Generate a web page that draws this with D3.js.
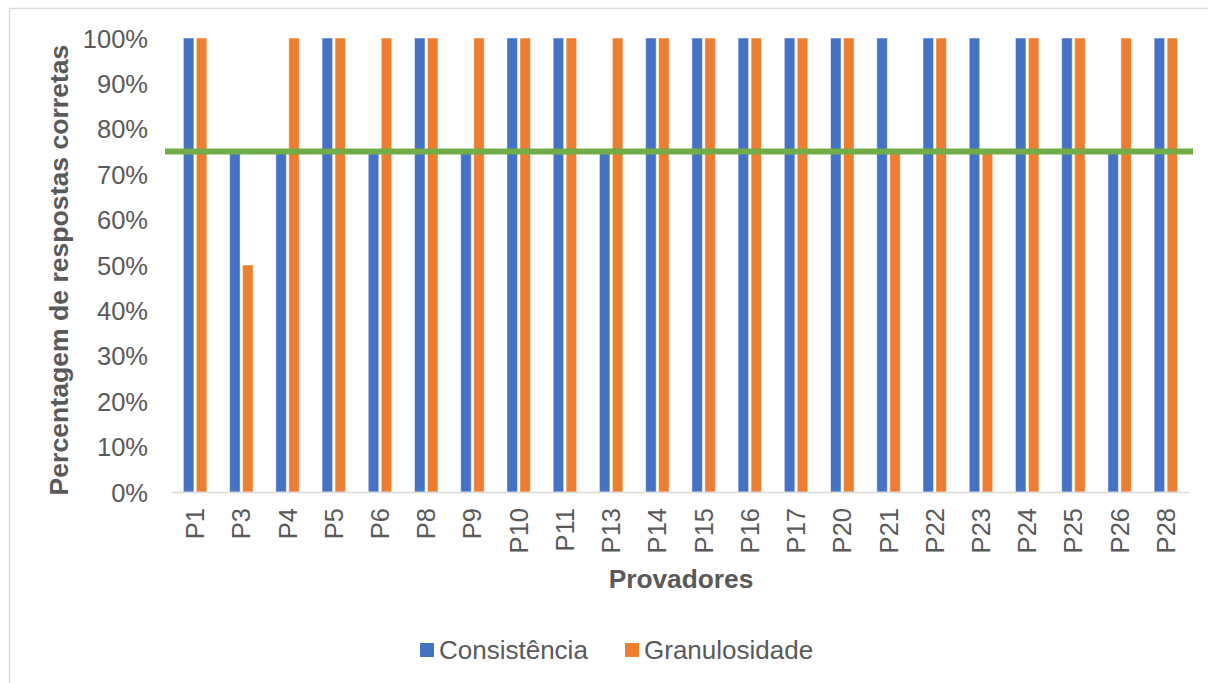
<!DOCTYPE html>
<html>
<head>
<meta charset="utf-8">
<script src="https://cdn.jsdelivr.net/npm/d3@7"></script>
<style>
  html, body { margin: 0; padding: 0; background: #fff; }
  svg { display: block; font-family: "Liberation Sans", Arial, sans-serif; }
</style>
</head>
<body>
<svg id="chart" width="1208" height="683"></svg>
<script>
// Tasters (provadores) and the share of correct answers per attribute
const categories = ["P1","P3","P4","P5","P6","P8","P9","P10","P11","P13","P14","P15","P16","P17","P20","P21","P22","P23","P24","P25","P26","P28"];
const seriesNames = ["Consistência", "Granulosidade"];
const consistencia = [100,75,75,100,75,100,75,100,100,75,100,100,100,100,100,100,100,100,100,100,75,100];
const granulosidade = [100,50,100,100,100,100,100,100,100,100,100,100,100,100,100,75,100,75,100,100,100,100];
const threshold = [75];
const yTicks = [0,10,20,30,40,50,60,70,80,90,100];
const colors = ["#4472C4", "#ED7D31"];
const thresholdColor = "#70AD47";

const svg = d3.select("#chart");
const textColor = "#595959";

// chart frame
svg.append("rect")
  .attr("x", 9.5).attr("y", 8.5)
  .attr("width", 1220).attr("height", 700)
  .attr("fill", "none").attr("stroke", "#D9D9D9").attr("stroke-width", 1.5);

const plot = { left: 172, right: 1189, top: 38, bottom: 492 };

const x0 = d3.scaleBand().domain(categories).range([plot.left, plot.right]).padding(0);
const groupW = 23.5;
const x1 = d3.scaleBand().domain(seriesNames).range([0, groupW]).paddingInner(0.19).paddingOuter(0);
const y = d3.scaleLinear().domain([0, 100]).range([plot.bottom, plot.top]);

// bars
const rows = categories.map((c, i) => ({ cat: c, values: [consistencia[i], granulosidade[i]] }));
const groups = svg.append("g").selectAll("g").data(rows).join("g")
  .attr("transform", d => `translate(${x0(d.cat) + x0.bandwidth() / 2 - groupW / 2},0)`);
groups.selectAll("rect")
  .data(d => d.values.map((v, j) => ({ name: seriesNames[j], v, j })))
  .join("rect")
  .attr("x", d => x1(d.name))
  .attr("width", x1.bandwidth())
  .attr("y", d => y(d.v))
  .attr("height", d => y(0) - y(d.v))
  .attr("fill", d => colors[d.j])
  .attr("stroke", "#fff").attr("stroke-opacity", 0.5).attr("stroke-width", 1);

// category axis line
svg.append("line")
  .attr("x1", plot.left).attr("x2", plot.right)
  .attr("y1", y(0) + 0.5).attr("y2", y(0) + 0.5)
  .attr("stroke", "#D9D9D9").attr("stroke-width", 1.5);

// value axis labels
const yAxis = d3.axisLeft(y).tickValues(yTicks).tickFormat(d => d + "%").tickSize(0).tickPadding(0);
const yg = svg.append("g").attr("transform", "translate(148,0)").call(yAxis);
yg.select(".domain").remove();
yg.selectAll("text")
  .attr("fill", textColor).attr("font-size", "25.5px")
  .attr("font-family", "Liberation Sans, Arial, sans-serif")
  .attr("dy", null).attr("dominant-baseline", "central");

// category labels, rotated
const xAxis = d3.axisBottom(x0).tickSize(0).tickPadding(0);
const xg = svg.append("g").attr("transform", `translate(0,${plot.bottom})`).call(xAxis);
xg.select(".domain").remove();
xg.selectAll("text")
  .attr("fill", textColor).attr("font-size", "25.5px")
  .attr("font-family", "Liberation Sans, Arial, sans-serif")
  .attr("text-anchor", "end")
  .attr("dominant-baseline", "central")
  .attr("dy", null).attr("y", 0)
  .attr("transform", "translate(0,16) rotate(-90)");

// 75% reference line
svg.append("g").selectAll("line").data(threshold).join("line")
  .attr("x1", plot.left - 7).attr("x2", plot.right + 4)
  .attr("y1", d => y(d)).attr("y2", d => y(d))
  .attr("stroke", thresholdColor).attr("stroke-width", 6);

// axis titles
svg.append("text")
  .attr("x", 681).attr("y", 579)
  .attr("text-anchor", "middle").attr("dominant-baseline", "central")
  .attr("font-size", "26.3px").attr("font-weight", "bold").attr("fill", textColor)
  .text("Provadores");

svg.append("text")
  .attr("transform", "translate(59,270) rotate(-90)")
  .attr("text-anchor", "middle").attr("dominant-baseline", "central")
  .attr("font-size", "26.6px").attr("font-weight", "bold").attr("fill", textColor)
  .text("Percentagem de respostas corretas");

// legend
const legendItems = [
  { name: seriesNames[0], color: colors[0], x: 420 },
  { name: seriesNames[1], color: colors[1], x: 625 }
];
const lg = svg.append("g").selectAll("g").data(legendItems).join("g")
  .attr("transform", d => `translate(${d.x},650)`);
lg.append("rect").attr("x", 0).attr("y", -7).attr("width", 14).attr("height", 14).attr("fill", d => d.color);
lg.append("text").attr("x", 19).attr("y", 0)
  .attr("dominant-baseline", "central")
  .attr("font-size", "26px").attr("fill", textColor)
  .text(d => d.name);
</script>
</body>
</html>
